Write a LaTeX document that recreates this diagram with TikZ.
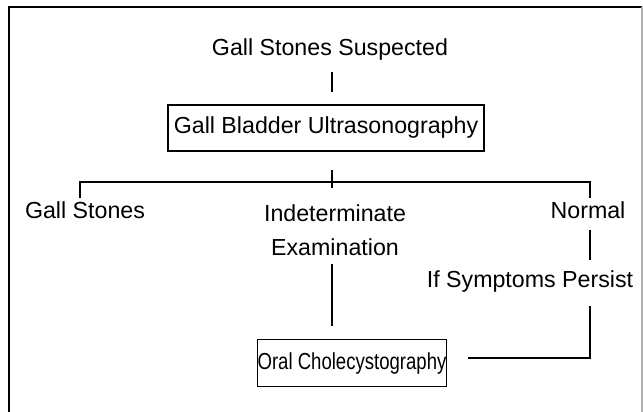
\documentclass[tikz,border=0pt]{standalone}
\usepackage{fontspec}
\setmainfont{Liberation Sans}
\begin{document}
\begin{tikzpicture}[x=0.025cm,y=-0.025cm,line width=1pt,
  every node/.style={font=\fontsize{16.5}{24}\selectfont,inner sep=2pt},
  testbox/.style={draw,line width=0.8pt,inner sep=0pt}]
\useasboundingbox (0,0) rectangle (643,412);
% frame
\draw (9,412) -- (9,7) -- (642,7);
\draw[gray!60] (642,7) -- (642,412);
% ultrasound step
\node (susp) at (330,50) {Gall Stones Suspected};
\node[testbox,minimum width=7.9cm,minimum height=1.15cm] (usg) at (326,128) {Gall Bladder Ultrasonography};
\coordinate (fork) at (332,182);
\coordinate (forkup) at (332,170);
\coordinate (forkdn) at (332,188);
\draw[shorten <=0.2cm,shorten >=0.32cm] (susp.south -| fork) -- (usg.north -| fork);
\draw (forkup) -- (forkdn);
% results
\coordinate (lft) at (80,182);
\coordinate (rgt) at (590,182);
\node (stones) at (85,210) {Gall Stones};
\node[align=center] (indet) at (335,230) {Indeterminate\\Examination};
\node (normal) at (588,210) {Normal};
\node (persist) at (530,282) {If Symptoms Persist};
\draw (stones.north -| lft) -- (lft) -- (rgt) -- (normal.north -| rgt);
\draw[shorten <=0.2cm,shorten >=0.2cm] (normal.south -| rgt) -- (persist.north -| rgt);
% oral cholecystography
\node[testbox,minimum width=4.72cm,minimum height=1.18cm] (ocg) at (352,363) {\scalebox{0.8}[1]{Oral Cholecystography}};
\coordinate (bend) at (590,358);
\draw[shorten <=0.12cm,shorten >=0.32cm] (indet.south -| fork) -- (ocg.north -| fork);
\draw[shorten <=0.25cm,shorten >=0.52cm] (persist.south -| bend) -- (bend) -- (bend -| ocg.east);
\end{tikzpicture}
\end{document}
